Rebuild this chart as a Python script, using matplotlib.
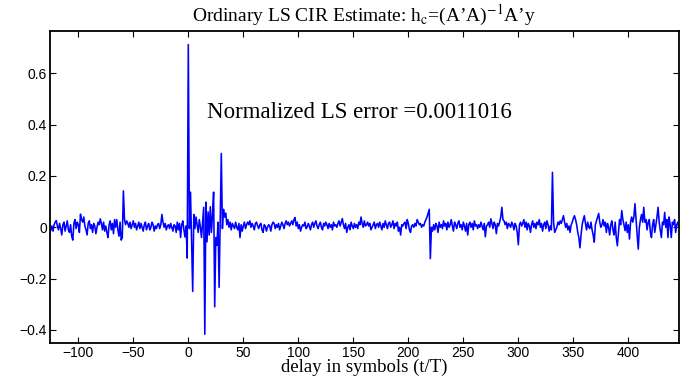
import numpy as np
import matplotlib
matplotlib.use("Agg")
import matplotlib.pyplot as plt

plt.rcParams['mathtext.fontset'] = 'stix'

# delay axis (symbols) of the first sample
delay_start = -126

# LS CIR estimate, in units of 1e-3 (10 samples per row)
h_milli = [
    -25, -10, 5, -15, 10, 20, 26, 5, -10, 15,        # -126
    -5, -30, 10, 20, -15, 5, 25, -10, -20, 10,       # -116
    -35, -50, 15, 30, -5, 20, 10, -20, 51, 30,       # -106
    20, 40, 5, -10, -30, 15, 25, -5, 10, -20,        # -96
    15, 5, -25, 0, 20, 10, 33, 15, -10, 20,          # -86
    -15, 5, -20, -40, 10, 25, -10, 15, -25, 30,      # -76
    0, 30, -10, -35, 20, -50, -40, 142, 30, 10,      # -66
    25, 15, 0, 20, -5, 10, 25, 0, 15, -10,           # -56
    5, 20, -5, 15, 0, -15, 10, 20, -10, 5,           # -46
    15, -10, 0, 20, 10, -15, 5, -5, 10, 15,          # -36
    -5, 10, 50, 20, 0, 15, -10, 5, 10, -5,           # -26
    15, 0, -15, 10, 5, -20, 20, -10, 15, -40,        # -16
    10, 25, -10, -38, 5, -120, 712, -5, 137, -50,    # -6
    -250, 50, -5, 40, 10, -20, 30, 0, -40, 20,       # 4
    78, -417, 98, -57, 60, -30, 80, -20, 50, 137,    # 14
    -310, -40, -70, 20, -234, 20, 288, -5, 70, 40,   # 24
    55, 10, 30, 0, 20, -10, 15, 5, -5, 20,           # 34
    0, -10, 15, -40, 10, -15, 5, 20, -5, 10,         # 44
    20, 10, 25, 0, 15, 5, -10, 15, 20, 5,            # 54
    -5, 10, 15, -10, -20, 10, 5, -15, 0, 10,         # 64
    5, -15, 10, 20, 15, -5, 10, 0, 15, -10,          # 74
    5, 20, 10, -5, 15, 25, 10, 20, 5, 15,            # 84
    25, 10, 30, 38, 5, 20, -5, 10, -15, 0,           # 94
    10, 5, 20, -5, 0, 15, 5, -10, 10, 20,            # 104
    0, 15, 25, 5, -5, 10, 20, 0, -10, 15,            # 114
    5, 20, 10, -5, 15, 0, 10, -10, 20, 5,            # 124
    10, 0, 15, 25, 5, 20, 34, 10, -5, 15,            # 134
    -20, 0, 10, -10, 20, 5, -5, 15, 0, 10,           # 144
    -5, 20, 10, 40, 15, 0, 25, 5, 10, 20,            # 154
    5, 15, -10, 0, 10, 20, -5, 10, 15, 0,            # 164
    20, 5, -10, 15, 0, 25, 10, -5, 15, 20,           # 174
    0, 10, 25, -5, 15, 5, 20, -15, 0, -30,           # 184
    10, 5, 15, 20, -5, 30, 15, -10, -20, 5,          # 194
    10, 0, 15, 5, 30, 20, 10, 15, 0, 10,             # 204
    5, 20, 30, 40, 55, 70, -122, 0, -15, 10,         # 214
    -10, 15, 5, -20, 20, 0, 10, -5, 25, 5,           # 224
    15, -10, 20, 0, 10, 30, 5, -15, 20, 10,          # 234
    -5, 15, 25, 0, 10, -10, 20, 5, -15, 15,          # 244
    -30, 10, 20, 0, 15, -10, 25, 5, 10, -5,          # 254
    10, 0, 20, 5, -10, 15, -37, 5, 10, 20,           # 264
    0, 33, 15, -5, 20, 10, -25, 15, 5, 20,           # 274
    40, 78, 30, 25, 10, 20, -5, 15, 10, 0,           # 284
    20, 10, -10, 15, 5, -20, -68, 10, 20, 5,         # 294
    15, 30, 0, 20, -10, 15, 5, -20, 10, 25,          # 304
    0, 15, -5, 20, 10, 30, 0, 15, -15, 10,           # 314
    20, -5, 25, 10, -15, 5, -10, 214, 20, -20,       # 324
    -10, 0, 20, 10, 25, 15, 30, 45, 20, 0,           # 334
    15, -10, 5, -20, 10, 20, 35, 45, 30, 10,         # 344
    -20, -40, -80, -30, 10, 30, 45, 15, -10, 20,     # 354
    0, -5, 20, -10, -30, -58, 10, 25, 40, 54,        # 364
    20, 0, 10, 30, 5, 20, -20, 15, 0, -30,           # 374
    10, 25, -10, -30, 20, -40, -72, -20, 30, 10,     # 384
    65, 30, 10, -13, 20, -20, 10, -46, 20, 40,       # 394
    20, 40, 92, 30, -30, -85, 0, 30, 50, 20,         # 404
    78, 20, 30, -10, 20, 30, -20, -40, 10, 30,       # 414
    -20, 10, 40, 78, 20, -10, -40, 20, 10, 58,       # 424
    0, 30, -40, 40, 10, -40, 20, 10, 30, -20,        # 434
    10, 20, 0,                                       # 444
]

x_ticks = [-100, -50, 0, 50, 100, 150, 200, 250, 300, 350, 400]
y_ticks = [-0.4, -0.2, 0, 0.2, 0.4, 0.6]
y_tick_labels = ['\u22120.4', '\u22120.2', '0', '0.2', '0.4', '0.6']
ls_error = 0.0011016

h = np.array(h_milli) / 1000.0
delay = delay_start + np.arange(len(h))

fig = plt.figure(figsize=(6.91, 3.78), dpi=100)
ax = fig.add_axes([0.0719, 0.0926, 0.9107, 0.8254])
ax.plot(delay, h, color='#0000ff', lw=1.15)

ax.set_xlim(-126, 446)
ax.set_ylim(-0.451, 0.765)
ax.set_xticks(x_ticks)
ax.set_xticklabels([str(t).replace('-', '\u2212') for t in x_ticks],
                   family='Liberation Sans', fontsize=10)
ax.set_yticks(y_ticks)
ax.set_yticklabels(y_tick_labels, family='Liberation Sans', fontsize=10)
ax.tick_params(direction='in', top=True, right=True, length=4, width=0.8, pad=2)
for s in ax.spines.values():
    s.set_linewidth(1.3)

ax.set_title('Ordinary LS CIR Estimate: h$_{\\rm c}$=(A\u2019A)$^{-1}$A\u2019y',
             family='Liberation Serif', fontsize=14, pad=7)
ax.set_xlabel('delay in symbols (t/T)', family='Liberation Serif', fontsize=13.5, labelpad=-1)
ax.text(17, 0.447, 'Normalized LS error =%.7f' % ls_error,
        family='Liberation Serif', fontsize=16.5, va='center')

fig.savefig('out.png', dpi=100)
